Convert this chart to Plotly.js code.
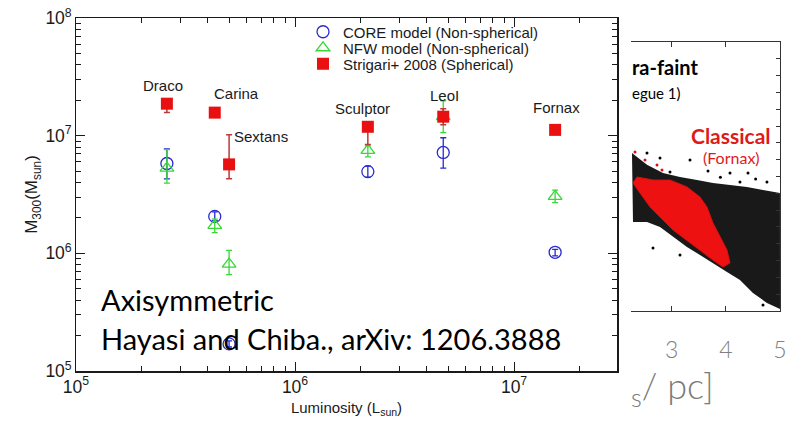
<!DOCTYPE html>
<html>
<head>
<meta charset="utf-8">
<script src="https://cdn.plot.ly/plotly-3.0.1.min.js"></script>
<style>html,body{margin:0;padding:0;background:#fff}#chart{width:798px;height:421px}</style>
</head>
<body>
<div id="chart"></div>
<script>
// ---------- main panel data ----------
const galaxies = ["Draco", "Carina", "Sextans", "Sculptor", "LeoI", "Fornax"];
const luminosity = [2.6e5, 4.3e5, 5.0e5, 2.15e6, 4.75e6, 1.54e7];

const coreVal = [5.8e6, 2.06e6, 1.7e5, 4.95e6, 7.2e6, 1.02e6];
const coreHi  = [7.7e6, 2.25e6, 1.8e5, 5.5e6, 9.6e6, 1.08e6];
const coreLo  = [4.3e6, 1.9e6, 1.6e5, 4.45e6, 5.3e6, 0.95e6];

const nfwVal = [5.3e6, 1.73e6, 8.1e5, 7.5e6, 1.45e7, 3.05e6];
const nfwHi  = [7.6e6, 1.95e6, 1.06e6, 8.2e6, 1.98e7, 3.45e6];
const nfwLo  = [3.95e6, 1.5e6, 6.6e5, 6.6e6, 1.06e7, 2.7e6];

const strVal = [1.87e7, 1.57e7, 5.7e6, 1.19e7, 1.45e7, 1.12e7];
const strHi  = [1.95e7, 1.65e7, 1.02e7, 1.25e7, 1.69e7, 1.17e7];
const strLo  = [1.57e7, 1.5e7, 4.3e6, 8.4e6, 1.24e7, 1.08e7];

// ---------- inset (cropped second figure) data ----------
const blackCloudX = [2.268, 2.545, 2.840, 3.154, 3.468, 3.763, 4.077, 4.390, 4.686, 4.999, 5.0, 4.759, 4.501, 4.261, 4.021, 3.763, 3.523, 3.283, 3.025, 2.785, 2.545, 2.287, 2.268];
const blackCloudY = [9.40, 8.70, 8.21, 7.97, 7.79, 7.61, 7.50, 7.38, 7.20, 7.02, 0.12, 0.48, 1.07, 1.84, 2.32, 2.86, 3.33, 3.81, 4.40, 5.00, 5.29, 5.30, 9.40];
const redCloudX = [2.361, 2.656, 2.970, 3.283, 3.523, 3.652, 3.763, 3.892, 4.021, 4.077, 3.947, 3.763, 3.523, 3.283, 3.025, 2.785, 2.601, 2.416, 2.287, 2.361];
const redCloudY = [7.97, 7.79, 7.79, 7.38, 6.78, 6.19, 5.24, 4.40, 3.63, 2.86, 2.62, 3.03, 3.63, 4.22, 4.82, 5.59, 6.19, 7.02, 7.61, 7.97];
const blackDotsX = [3.339, 3.671, 4.077, 4.409, 4.759, 4.261, 2.656, 3.154, 4.686, 2.970, 2.785, 2.545, 3.90, 4.55];
const blackDotsY = [8.98, 8.33, 8.21, 8.21, 7.67, 7.67, 3.75, 3.33, 0.36, 8.27, 9.10, 9.40, 7.95, 7.85];
const redDotsX = [2.324, 2.730, 2.822, 2.508];
const redDotsY = [9.46, 8.69, 8.39, 8.98];
const insetTickVals = [3, 4, 5];
const insetTickText = ["3", "4", "5"];

// ---------- helpers ----------
const plus  = (hi, v) => hi.map((h, i) => h - v[i]);
const minus = (lo, v) => lo.map((l, i) => v[i] - l);

const BLUE = "#2a2ad0", GREEN = "#38d838", RED = "#e81010", REDBAR = "#b83a3a";
const FONT = "Liberation Sans, Arial, sans-serif";
const CAL = "Lato, Carlito, sans-serif";

const traces = [
  {
    name: "CORE model (Non-spherical)", legend: "legend", x: luminosity, y: coreVal, type: "scatter", mode: "markers",
    marker: {symbol: "circle-open", size: 12, color: BLUE, line: {width: 1.3, color: BLUE}},
    error_y: {type: "data", symmetric: false, array: plus(coreHi, coreVal), arrayminus: minus(coreLo, coreVal), color: BLUE, thickness: 1.3, width: 3},
    xaxis: "x", yaxis: "y"
  },
  {
    name: "NFW model (Non-spherical)", legend: "legend2", x: luminosity, y: nfwVal, type: "scatter", mode: "markers",
    marker: {symbol: "triangle-up-open", size: 12, color: GREEN, line: {width: 1.3, color: GREEN}},
    error_y: {type: "data", symmetric: false, array: plus(nfwHi, nfwVal), arrayminus: minus(nfwLo, nfwVal), color: GREEN, thickness: 1.3, width: 3},
    xaxis: "x", yaxis: "y"
  },
  {
    name: "Strigari+ 2008 (Spherical)", legend: "legend3", x: luminosity, y: strVal, type: "scatter", mode: "markers",
    marker: {symbol: "square", size: 12, color: RED},
    error_y: {type: "data", symmetric: false, array: plus(strHi, strVal), arrayminus: minus(strLo, strVal), color: REDBAR, thickness: 1.5, width: 3},
    xaxis: "x", yaxis: "y"
  },
  // inset
  {x: blackCloudX, y: blackCloudY, type: "scatter", mode: "lines", fill: "toself", fillcolor: "rgba(0,0,0,0.9)", line: {width: 0}, showlegend: false, xaxis: "x2", yaxis: "y2", hoverinfo: "skip"},
  {x: blackDotsX, y: blackDotsY, type: "scatter", mode: "markers", marker: {size: 3, color: "#000"}, showlegend: false, xaxis: "x2", yaxis: "y2"},
  {x: redCloudX, y: redCloudY, type: "scatter", mode: "lines", fill: "toself", fillcolor: "#ee1111", line: {width: 1, color: "#d81010"}, showlegend: false, xaxis: "x2", yaxis: "y2", hoverinfo: "skip"},
  {x: redDotsX, y: redDotsY, type: "scatter", mode: "markers", marker: {size: 3, color: "#e01010"}, showlegend: false, xaxis: "x2", yaxis: "y2"}
];

// galaxy name labels, anchored on the Strigari point of each galaxy
const labelOffsets = {
  Draco:    {xanchor: "center", xshift: -4, yshift: 18},
  Carina:   {xanchor: "left",   xshift: -3, yshift: 19},
  Sextans:  {xanchor: "left",   xshift: 3,  yshift: 28},
  Sculptor: {xanchor: "center", xshift: -5, yshift: 18},
  LeoI:     {xanchor: "center", xshift: 1,  yshift: 21},
  Fornax:   {xanchor: "center", xshift: 1,  yshift: 22}
};
const annotations = galaxies.map((g, i) => Object.assign({
  x: Math.log10(luminosity[i]), y: Math.log10(strVal[i]), xref: "x", yref: "y",
  text: g, showarrow: false, yanchor: "middle",
  font: {family: FONT, size: 15, color: "#1a1a1a"}
}, labelOffsets[g]));

annotations.push(
  {xref: "paper", yref: "paper", x: 99/798, y: (421-300)/421, xanchor: "left", yanchor: "middle", showarrow: false,
   text: "Axisymmetric", font: {family: CAL, size: 29, color: "#000"}},
  {xref: "paper", yref: "paper", x: 99/798, y: (421-338)/421, xanchor: "left", yanchor: "middle", showarrow: false,
   text: "Hayasi and Chiba., arXiv: 1206.3888", font: {family: CAL, size: 29, color: "#000"}},
  {xref: "paper", yref: "paper", x: 630/798, y: (421-67)/421, xanchor: "left", yanchor: "middle", showarrow: false,
   text: "<b>ra-faint</b>", font: {family: CAL, size: 20, color: "#000"}},
  {xref: "paper", yref: "paper", x: 630/798, y: (421-93)/421, xanchor: "left", yanchor: "middle", showarrow: false,
   text: "egue 1)", font: {family: CAL, size: 15, color: "#000"}},
  {xref: "paper", yref: "paper", x: 773/798, y: (421-136)/421, xanchor: "right", yanchor: "middle", showarrow: false,
   text: "<b>Classical</b>", font: {family: CAL, size: 21, color: "#e01a1a"}},
  {xref: "paper", yref: "paper", x: 731/798, y: (421-157)/421, xanchor: "center", yanchor: "middle", showarrow: false,
   text: "(Fornax)", font: {family: CAL, size: 16, color: "#e01a1a"}},
  {xref: "paper", yref: "paper", x: 629/798, y: (421-387)/421, xanchor: "left", yanchor: "middle", showarrow: false,
   text: "<sub>s</sub>/ pc]", font: {family: CAL, size: 36, color: "#7a7a7a", weight: 300}}
);

const axisCommon = {
  showline: true, linecolor: "#1a1a1a", linewidth: 1.5, mirror: "allticks",
  ticks: "inside", ticklen: 9, tickwidth: 1, tickcolor: "#1a1a1a",
  showgrid: false, zeroline: false, type: "log", dtick: 1, exponentformat: "power",
  tickfont: {family: FONT, size: 14, color: "#1a1a1a"},
  minor: {ticks: "inside", ticklen: 5, tickcolor: "#1a1a1a", dtick: "D1", showgrid: false}
};

const legendCommon = {x: 303/798, xanchor: "left", yanchor: "middle", bgcolor: "rgba(0,0,0,0)",
                      font: {family: FONT, size: 15, color: "#1a1a1a"}, itemwidth: 30};

const layout = {
  width: 798, height: 421,
  margin: {l: 0, r: 0, t: 0, b: 0},
  paper_bgcolor: "#fff", plot_bgcolor: "rgba(0,0,0,0)",
  showlegend: true,
  legend:  Object.assign({}, legendCommon, {y: (421-32)/421}),
  legend2: Object.assign({}, legendCommon, {y: (421-48)/421}),
  legend3: Object.assign({}, legendCommon, {y: (421-64)/421}),
  xaxis: Object.assign({}, axisCommon, {
    domain: [76/798, 617/798], range: [5, 7.47], anchor: "y",
    title: {text: "Luminosity (L<sub>sun</sub>)", font: {family: FONT, size: 15, color: "#1a1a1a"}, standoff: 6}
  }),
  yaxis: Object.assign({}, axisCommon, {
    domain: [(421-371)/421, (421-18)/421], range: [5, 8], anchor: "x",
    title: {text: "M<sub>300</sub>(M<sub>sun</sub>)", font: {family: FONT, size: 17, color: "#1a1a1a"}, standoff: 3}
  }),
  xaxis2: {
    domain: [631/798, 780/798], range: [2.25, 5.0], anchor: "y2",
    showline: true, linecolor: "#333", linewidth: 1.2, mirror: "ticks",
    ticks: "inside", ticklen: 5, tickcolor: "#333", tickvals: insetTickVals, ticktext: insetTickText,
    ticklabelstandoff: 18,
    tickfont: {family: CAL, size: 23, color: "#808080", weight: 300},
    showgrid: false, zeroline: false
  },
  yaxis2: {
    domain: [(421-311)/421, (421-42)/421], range: [0, 16], anchor: "x2", side: "right",
    showline: true, linecolor: "#333", linewidth: 1.2, mirror: false,
    ticks: "inside", ticklen: 4, tickcolor: "#333", dtick: 1, showticklabels: false,
    showgrid: false, zeroline: false
  },
  annotations: annotations
};

Plotly.newPlot("chart", traces, layout, {displayModeBar: false, staticPlot: true});
</script>
</body>
</html>
